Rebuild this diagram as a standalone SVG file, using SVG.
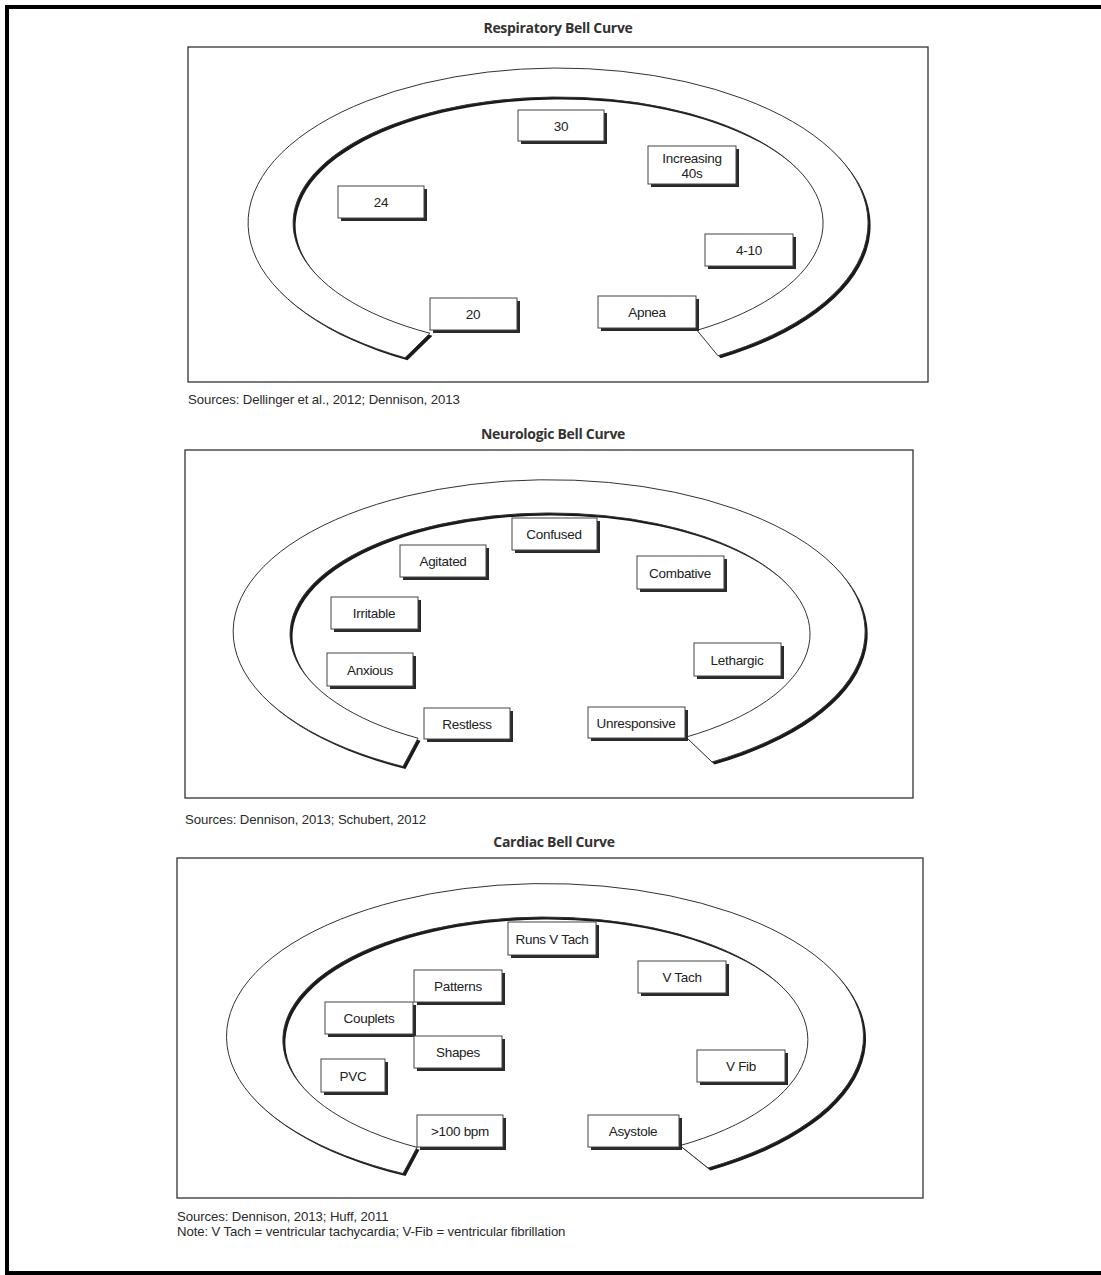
<svg xmlns="http://www.w3.org/2000/svg" xmlns:xlink="http://www.w3.org/1999/xlink" width="1101" height="1275" viewBox="0 0 1101 1275">
<style>
.page{fill:none;stroke:#000;stroke-width:4}
.panel{fill:none;stroke:#333;stroke-width:1.3}
.bandsh{fill:#1a1a1a;stroke:none}
.band{fill:#fff;stroke:#333;stroke-width:1}
.sh{fill:#2a2a2a}
.box{fill:#fff;stroke:#444;stroke-width:1}
.lbl{font-family:"Liberation Sans",Arial,sans-serif;font-size:13.5px;fill:#222;text-anchor:middle;letter-spacing:-0.3px}
.title{font-family:"Open Sans","Liberation Sans",sans-serif;font-size:14px;font-weight:bold;fill:#333;text-anchor:middle;letter-spacing:-0.3px}
.src{font-family:"Liberation Sans",Arial,sans-serif;font-size:13.2px;fill:#2a2a2a;letter-spacing:-0.1px}
</style>
<defs>
<path id="b1" d="M405,357.8 A310,155 0 1 1 718,355.8 L697,330.3 A265,126 0 1 0 430,333.3 Z"/>
<path id="b2" d="M403,766.5 A316,152 0 1 1 712,762 L686,737.1 A260,121 0 1 0 418,738.2 Z"/>
<path id="b3" d="M403,1173.5 A318.5,153 0 1 1 708,1168 L680,1145.6 A262.5,123 0 1 0 417,1147.3 Z"/>
</defs>
<rect width="1101" height="1275" fill="#fff"/>
<g id="page-border">
<line class="page" x1="7" y1="7" x2="1101" y2="7"/>
<line class="page" x1="7" y1="5" x2="7" y2="1275"/>
<line class="page" x1="5" y1="1273" x2="1101" y2="1273"/>
</g>

<g id="respiratory">
<text class="title" x="558" y="33">Respiratory Bell Curve</text>
<rect class="panel" x="188" y="47" width="740" height="335"/>
<g id="resp-band">
<use xlink:href="#b1" class="bandsh" transform="translate(2.5,2.5)"/>
<use xlink:href="#b1" class="band"/>
</g>
<g id="r30"><rect class="sh" x="521" y="113" width="86" height="31"/><rect class="box" x="518" y="110" width="86" height="31"/><text class="lbl" x="561" y="130.5">30</text></g>
<g id="r40s"><rect class="sh" x="651" y="149" width="88" height="38"/><rect class="box" x="648" y="146" width="88" height="38"/><text class="lbl" x="692" y="162.5">Increasing</text><text class="lbl" x="692" y="177.5">40s</text></g>
<g id="r24"><rect class="sh" x="341" y="189" width="86" height="32"/><rect class="box" x="338" y="186" width="86" height="32"/><text class="lbl" x="381" y="207">24</text></g>
<g id="r410"><rect class="sh" x="708" y="237" width="88" height="32"/><rect class="box" x="705" y="234" width="88" height="32"/><text class="lbl" x="749" y="255">4-10</text></g>
<g id="r20"><rect class="sh" x="433" y="301" width="87" height="32"/><rect class="box" x="430" y="298" width="87" height="32"/><text class="lbl" x="473" y="319">20</text></g>
<g id="rapnea"><rect class="sh" x="601" y="299" width="98" height="32"/><rect class="box" x="598" y="296" width="98" height="32"/><text class="lbl" x="647" y="317">Apnea</text></g>
<text class="src" x="188" y="404">Sources: Dellinger et al., 2012; Dennison, 2013</text>
</g>

<g id="neurologic">
<text class="title" x="553" y="439">Neurologic Bell Curve</text>
<rect class="panel" x="185" y="450" width="728" height="348"/>
<g id="neuro-band">
<use xlink:href="#b2" class="bandsh" transform="translate(2.5,2.5)"/>
<use xlink:href="#b2" class="band"/>
</g>
<g id="nconfused"><rect class="sh" x="515" y="521" width="85" height="32"/><rect class="box" x="512" y="518" width="85" height="32"/><text class="lbl" x="554" y="539">Confused</text></g>
<g id="nagitated"><rect class="sh" x="403" y="548" width="86" height="32"/><rect class="box" x="400" y="545" width="86" height="32"/><text class="lbl" x="443" y="566">Agitated</text></g>
<g id="ncombative"><rect class="sh" x="640" y="559" width="87" height="33"/><rect class="box" x="637" y="556" width="87" height="33"/><text class="lbl" x="680" y="577.5">Combative</text></g>
<g id="nirritable"><rect class="sh" x="334" y="600" width="87" height="32"/><rect class="box" x="331" y="597" width="87" height="32"/><text class="lbl" x="374" y="618">Irritable</text></g>
<g id="nanxious"><rect class="sh" x="330" y="656" width="86" height="33"/><rect class="box" x="327" y="653" width="86" height="33"/><text class="lbl" x="370" y="674.5">Anxious</text></g>
<g id="nlethargic"><rect class="sh" x="697" y="646" width="87" height="33"/><rect class="box" x="694" y="643" width="87" height="33"/><text class="lbl" x="737" y="664.5">Lethargic</text></g>
<g id="nrestless"><rect class="sh" x="427" y="711" width="86" height="31"/><rect class="box" x="424" y="708" width="86" height="31"/><text class="lbl" x="467" y="728.5">Restless</text></g>
<g id="nunresponsive"><rect class="sh" x="591" y="710" width="97" height="31"/><rect class="box" x="588" y="707" width="97" height="31"/><text class="lbl" x="636" y="727.5">Unresponsive</text></g>
<text class="src" x="185" y="824">Sources: Dennison, 2013; Schubert, 2012</text>
</g>

<g id="cardiac">
<text class="title" x="554" y="847">Cardiac Bell Curve</text>
<rect class="panel" x="177" y="858" width="746" height="340"/>
<g id="card-band">
<use xlink:href="#b3" class="bandsh" transform="translate(2.5,2.5)"/>
<use xlink:href="#b3" class="band"/>
</g>
<g id="cruns"><rect class="sh" x="511" y="925" width="88" height="33"/><rect class="box" x="508" y="922" width="88" height="33"/><text class="lbl" x="552" y="943.5">Runs V Tach</text></g>
<g id="cvtach"><rect class="sh" x="641" y="964" width="88" height="32"/><rect class="box" x="638" y="961" width="88" height="32"/><text class="lbl" x="682" y="982">V Tach</text></g>
<g id="cpatterns"><rect class="sh" x="417" y="973" width="88" height="32"/><rect class="box" x="414" y="970" width="88" height="32"/><text class="lbl" x="458" y="991">Patterns</text></g>
<g id="ccouplets"><rect class="sh" x="328" y="1005" width="88" height="32"/><rect class="box" x="325" y="1002" width="88" height="32"/><text class="lbl" x="369" y="1023">Couplets</text></g>
<g id="cshapes"><rect class="sh" x="417" y="1039" width="88" height="32"/><rect class="box" x="414" y="1036" width="88" height="32"/><text class="lbl" x="458" y="1057">Shapes</text></g>
<g id="cpvc"><rect class="sh" x="324" y="1062" width="64" height="33"/><rect class="box" x="321" y="1059" width="64" height="33"/><text class="lbl" x="353" y="1080.5">PVC</text></g>
<g id="cvfib"><rect class="sh" x="700" y="1053" width="88" height="32"/><rect class="box" x="697" y="1050" width="88" height="32"/><text class="lbl" x="741" y="1071">V Fib</text></g>
<g id="c100"><rect class="sh" x="420" y="1118" width="86" height="32"/><rect class="box" x="417" y="1115" width="86" height="32"/><text class="lbl" x="460" y="1136">&gt;100 bpm</text></g>
<g id="casystole"><rect class="sh" x="591" y="1118" width="91" height="32"/><rect class="box" x="588" y="1115" width="91" height="32"/><text class="lbl" x="633" y="1136">Asystole</text></g>
<text class="src" x="177" y="1221">Sources: Dennison, 2013; Huff, 2011</text>
<text class="src" x="177" y="1236">Note: V Tach = ventricular tachycardia; V-Fib = ventricular fibrillation</text>
</g>
</svg>
